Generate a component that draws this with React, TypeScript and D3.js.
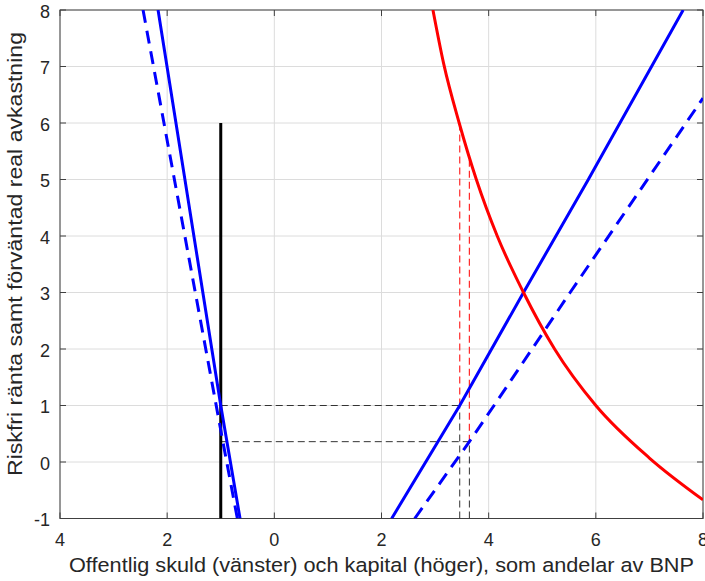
import { useEffect, useRef } from 'react'
import * as d3 from 'd3'

type Pt = { x: number; y: number }

// x < 0 is government debt (drawn leftwards), x > 0 is capital
const X_TICKS = [-4, -2, 0, 2, 4, 6, 8]
const X_TICK_LABELS = ['4', '2', '0', '2', '4', '6', '8']
const Y_TICKS = [-1, 0, 1, 2, 3, 4, 5, 6, 7, 8]

const debtSupply: Pt[] = [
  { x: -2.17, y: 8 },
  { x: -1.0, y: 1 },
  { x: -0.64, y: -1 },
]
const debtSupplyShifted: Pt[] = [
  { x: -2.45, y: 8 },
  { x: -0.96, y: 0.36 },
  { x: -0.69, y: -1 },
]
const capitalSupply: Pt[] = [
  { x: 2.19, y: -1 },
  { x: 3.46, y: 1 },
  { x: 4.65, y: 3 },
  { x: 5.86, y: 5 },
  { x: 7.63, y: 8 },
]
const capitalSupplyShifted: Pt[] = [
  { x: 2.62, y: -1 },
  { x: 3.64, y: 0.36 },
  { x: 4.1, y: 1 },
  { x: 5.52, y: 3 },
  { x: 8, y: 6.44 },
]
const expectedReturn: Pt[] = [
  { x: 2.96, y: 8 },
  { x: 3.16, y: 7.05 },
  { x: 3.45, y: 6 },
  { x: 3.77, y: 5 },
  { x: 4.16, y: 4 },
  { x: 4.65, y: 3 },
  { x: 5.23, y: 2 },
  { x: 6.0, y: 1 },
  { x: 7.0, y: 0.07 },
  { x: 8.0, y: -0.67 },
]
const debtLevel: Pt[] = [
  { x: -1, y: -1 },
  { x: -1, y: 6 },
]

// equilibrium guides: riskfree rate, capital stock, return on capital
const EQ_RATE = [1, 0.36]
const EQ_CAPITAL = [3.46, 3.64]
const EQ_RETURN = [6.0, 5.35]

const W = 705
const H = 581
const FONT = '"Liberation Sans", Arial, Helvetica, sans-serif'

export default function App() {
  const svgRef = useRef<SVGSVGElement>(null)

  useEffect(() => {
    if (!svgRef.current) return
    const svg = d3.select(svgRef.current)
    svg.selectAll('*').remove()

    const margin = { top: 10, right: 2, bottom: 62.5, left: 60 }
    const width = W - margin.left - margin.right
    const height = H - margin.top - margin.bottom

    const x = d3.scaleLinear().domain([-4, 8]).range([0, width])
    const y = d3.scaleLinear().domain([-1, 8]).range([height, 0])

    svg
      .append('defs')
      .append('clipPath')
      .attr('id', 'plot-clip')
      .append('rect')
      .attr('width', width)
      .attr('height', height)

    const g = svg
      .append('g')
      .attr('transform', `translate(${margin.left},${margin.top})`)

    // grid
    g.selectAll('line.vgrid')
      .data(X_TICKS)
      .enter()
      .append('line')
      .attr('x1', d => x(d))
      .attr('x2', d => x(d))
      .attr('y1', 0)
      .attr('y2', height)
      .attr('stroke', '#dcdcdc')
    g.selectAll('line.hgrid')
      .data(Y_TICKS)
      .enter()
      .append('line')
      .attr('x1', 0)
      .attr('x2', width)
      .attr('y1', d => y(d))
      .attr('y2', d => y(d))
      .attr('stroke', '#dcdcdc')

    // axes box with inward ticks
    const tickLen = 6
    const axisColor = '#404040'
    g.append('rect')
      .attr('width', width)
      .attr('height', height)
      .attr('fill', 'none')
      .attr('stroke', axisColor)
      .attr('stroke-width', 1)
    X_TICKS.forEach(t => {
      g.append('line')
        .attr('x1', x(t)).attr('x2', x(t))
        .attr('y1', height).attr('y2', height - tickLen)
        .attr('stroke', axisColor)
      g.append('line')
        .attr('x1', x(t)).attr('x2', x(t))
        .attr('y1', 0).attr('y2', tickLen)
        .attr('stroke', axisColor)
    })
    Y_TICKS.forEach(t => {
      g.append('line')
        .attr('x1', 0).attr('x2', tickLen)
        .attr('y1', y(t)).attr('y2', y(t))
        .attr('stroke', axisColor)
      g.append('line')
        .attr('x1', width).attr('x2', width - tickLen)
        .attr('y1', y(t)).attr('y2', y(t))
        .attr('stroke', axisColor)
    })

    // tick labels
    g.selectAll('text.xt')
      .data(X_TICKS)
      .enter()
      .append('text')
      .attr('x', d => x(d))
      .attr('y', height + 27)
      .attr('text-anchor', 'middle')
      .attr('font-family', FONT)
      .attr('font-size', 18)
      .attr('fill', '#262626')
      .text((d, i) => X_TICK_LABELS[i])
    g.selectAll('text.yt')
      .data(Y_TICKS)
      .enter()
      .append('text')
      .attr('x', -10)
      .attr('y', d => y(d) + 1.5)
      .attr('dy', '0.35em')
      .attr('text-anchor', 'end')
      .attr('font-family', FONT)
      .attr('font-size', 18)
      .attr('fill', '#262626')
      .text(d => String(d))

    // axis titles
    svg.append('text')
      .attr('x', margin.left + width / 2)
      .attr('y', 572)
      .attr('text-anchor', 'middle')
      .attr('font-family', FONT)
      .attr('font-size', 20.5)
      .attr('textLength', 625)
      .attr('lengthAdjust', 'spacingAndGlyphs')
      .attr('fill', '#262626')
      .text('Offentlig skuld (vänster) och kapital (höger), som andelar av BNP')
    svg.append('text')
      .attr('transform', `translate(22,254) rotate(-90)`)
      .attr('text-anchor', 'middle')
      .attr('font-family', FONT)
      .attr('font-size', 20)
      .attr('textLength', 444)
      .attr('lengthAdjust', 'spacingAndGlyphs')
      .attr('fill', '#262626')
      .text('Riskfri ränta samt förväntad real avkastning')

    const plot = g.append('g').attr('clip-path', 'url(#plot-clip)')
    const line = d3.line<Pt>().x(d => x(d.x)).y(d => y(d.y))
    const smooth = d3.line<Pt>().x(d => x(d.x)).y(d => y(d.y)).curve(d3.curveMonotoneX)

    // guide lines
    const guide = (pts: Pt[], color: string, w: number) =>
      plot.append('path')
        .attr('d', line(pts))
        .attr('fill', 'none')
        .attr('stroke', color)
        .attr('stroke-width', w)
        .attr('stroke-dasharray', '7,4')
    EQ_RATE.forEach((r, i) => {
      guide([{ x: debtLevel[0].x, y: r }, { x: EQ_CAPITAL[i], y: r }], '#333', 1)
      guide([{ x: EQ_CAPITAL[i], y: -1 }, { x: EQ_CAPITAL[i], y: r }], '#333', 1)
      guide([{ x: EQ_CAPITAL[i], y: r }, { x: EQ_CAPITAL[i], y: EQ_RETURN[i] }], '#ff2a2a', 1.2)
    })

    const curve = (pts: Pt[], color: string, dashed: boolean, gen = line) =>
      plot.append('path')
        .attr('d', gen(pts))
        .attr('fill', 'none')
        .attr('stroke', color)
        .attr('stroke-width', 3)
        .attr('stroke-dasharray', dashed ? '13,8' : null)

    curve(debtLevel, '#000', false)
    curve(debtSupply, '#0000ff', false)
    curve(debtSupplyShifted, '#0000ff', true)
    curve(capitalSupply, '#0000ff', false)
    curve(capitalSupplyShifted, '#0000ff', true)
    curve(expectedReturn, '#ff0000', false, smooth)
  }, [])

  return (
    <svg
      ref={svgRef}
      width={W}
      height={H}
      style={{ position: 'absolute', left: 0, top: 0, background: '#fff' }}
    />
  )
}
